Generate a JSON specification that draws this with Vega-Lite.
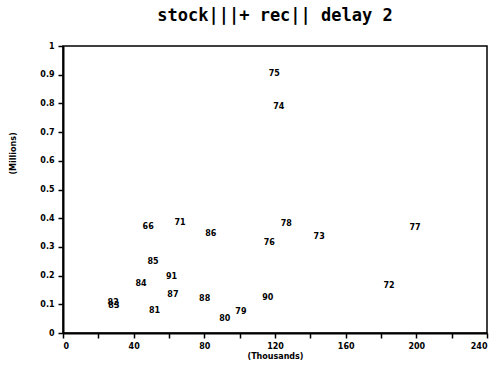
{
  "$schema": "https://vega.github.io/schema/vega-lite/v6.json",
  "autosize": "none",
  "width": 424,
  "height": 287,
  "padding": {"left": 63, "top": 46, "right": 9, "bottom": 34},
  "background": "white",
  "title": {
    "text": "stock|||+ rec|| delay 2",
    "font": "DejaVu Sans Mono",
    "fontSize": 17,
    "fontWeight": "bold",
    "color": "black",
    "anchor": "middle",
    "offset": 17
  },
  "config": {
    "view": {"stroke": "black", "strokeWidth": 1.5},
    "axis": {
      "grid": false,
      "domainColor": "black",
      "domainWidth": 2,
      "tickColor": "black",
      "tickWidth": 1.5,
      "tickSize": 5,
      "labelFont": "DejaVu Sans",
      "labelFontSize": 8,
      "labelFontWeight": "bold",
      "labelColor": "black",
      "titleFont": "DejaVu Sans",
      "titleFontSize": 8,
      "titleFontWeight": "bold",
      "titleColor": "black"
    }
  },
  "data": {
    "values": [
      {"x": 48.2, "y": 0.370, "yr": "66"},
      {"x": 66.2, "y": 0.382, "yr": "71"},
      {"x": 83.6, "y": 0.345, "yr": "86"},
      {"x": 51.0, "y": 0.248, "yr": "85"},
      {"x": 61.4, "y": 0.194, "yr": "91"},
      {"x": 44.2, "y": 0.171, "yr": "84"},
      {"x": 62.2, "y": 0.131, "yr": "87"},
      {"x": 80.2, "y": 0.117, "yr": "88"},
      {"x": 28.4, "y": 0.106, "yr": "82"},
      {"x": 28.8, "y": 0.093, "yr": "83"},
      {"x": 51.8, "y": 0.078, "yr": "81"},
      {"x": 91.6, "y": 0.049, "yr": "80"},
      {"x": 100.7, "y": 0.074, "yr": "79"},
      {"x": 115.9, "y": 0.121, "yr": "90"},
      {"x": 119.6, "y": 0.901, "yr": "75"},
      {"x": 122.1, "y": 0.788, "yr": "74"},
      {"x": 126.4, "y": 0.379, "yr": "78"},
      {"x": 116.8, "y": 0.315, "yr": "76"},
      {"x": 145.0, "y": 0.336, "yr": "73"},
      {"x": 199.3, "y": 0.367, "yr": "77"},
      {"x": 184.5, "y": 0.165, "yr": "72"}
    ]
  },
  "mark": {"type": "text", "font": "DejaVu Sans", "fontSize": 8, "fontWeight": "bold", "color": "black"},
  "encoding": {
    "x": {
      "field": "x",
      "type": "quantitative",
      "scale": {"domain": [0, 240], "nice": false},
      "axis": {
        "title": "(Thousands)",
        "values": [0, 20, 40, 60, 80, 100, 120, 140, 160, 180, 200, 220, 240],
        "labelExpr": "datum.value % 40 == 0 ? datum.label : ''",
        "labelPadding": 4,
        "titlePadding": 2
      }
    },
    "y": {
      "field": "y",
      "type": "quantitative",
      "scale": {"domain": [0, 1], "nice": false},
      "axis": {
        "title": "(Millions)",
        "values": [0, 0.1, 0.2, 0.3, 0.4, 0.5, 0.6, 0.7, 0.8, 0.9, 1],
        "format": ".1~f",
        "labelPadding": 4,
        "titleX": -46,
        "titleY": 107
      }
    },
    "text": {"field": "yr", "type": "nominal"}
  }
}
